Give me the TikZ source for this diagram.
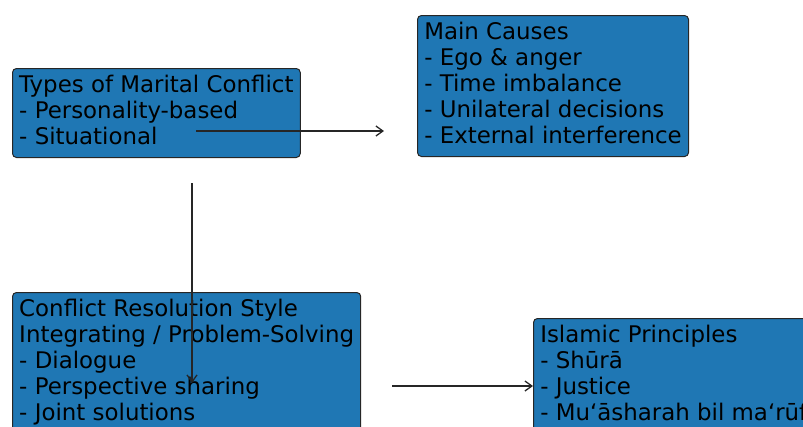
\documentclass[tikz,border=0pt]{standalone}
\usepackage{fontspec}
\setmainfont{DejaVu Sans}
\usetikzlibrary{arrows.meta}
\definecolor{boxblue}{RGB}{31,119,180}

\begin{document}
\begin{tikzpicture}[x=1pt,y=-1pt,>={Straight Barb[length=7pt,width=10pt]},
  box/.style={draw=black!85,fill=boxblue,rounded corners=4pt,anchor=north west,align=left,
    inner xsep=6.75pt,inner ysep=5.5pt,line width=1pt,font=\fontsize{22.9}{26}\selectfont},
  link/.style={->,line width=1.3pt,black!85}]
  \useasboundingbox (0,0) rectangle (803,426);
  \clip (0,0) rectangle (803,426);

  % Boxes
  \node[box] (types) at (12,68) {\strut Types of Marital Conflict\\- Personality-based\\- Situational\strut};
  \node[box] (causes) at (417,15) {\strut Main Causes\\- Ego \& anger\\- Time imbalance\\- Unilateral decisions\\- External interference\strut};
  \node[box] (style) at (12,292) {\strut Conflict Resolution Style\\Integrating / Problem-Solving\\- Dialogue\\- Perspective sharing\\- Joint solutions\strut};
  \node[box] (islamic) at (533,318) {\strut Islamic Principles\\- Shūrā\\- Justice\\- Mu‘āsharah bil ma‘rūf\strut};

  % Arrows
  \coordinate (typesTail) at (196,131);
  \coordinate (causesTip) at (384,131);
  \coordinate (typesDown) at (192,183);
  \coordinate (styleTip) at (192,383);
  \coordinate (styleTail) at (392,386);
  \draw[link] (typesTail) -- (causesTip);
  \draw[link] (typesDown) -- (styleTip);
  \draw[link] (styleTail) -- (styleTail -| islamic.west);
\end{tikzpicture}
\end{document}
